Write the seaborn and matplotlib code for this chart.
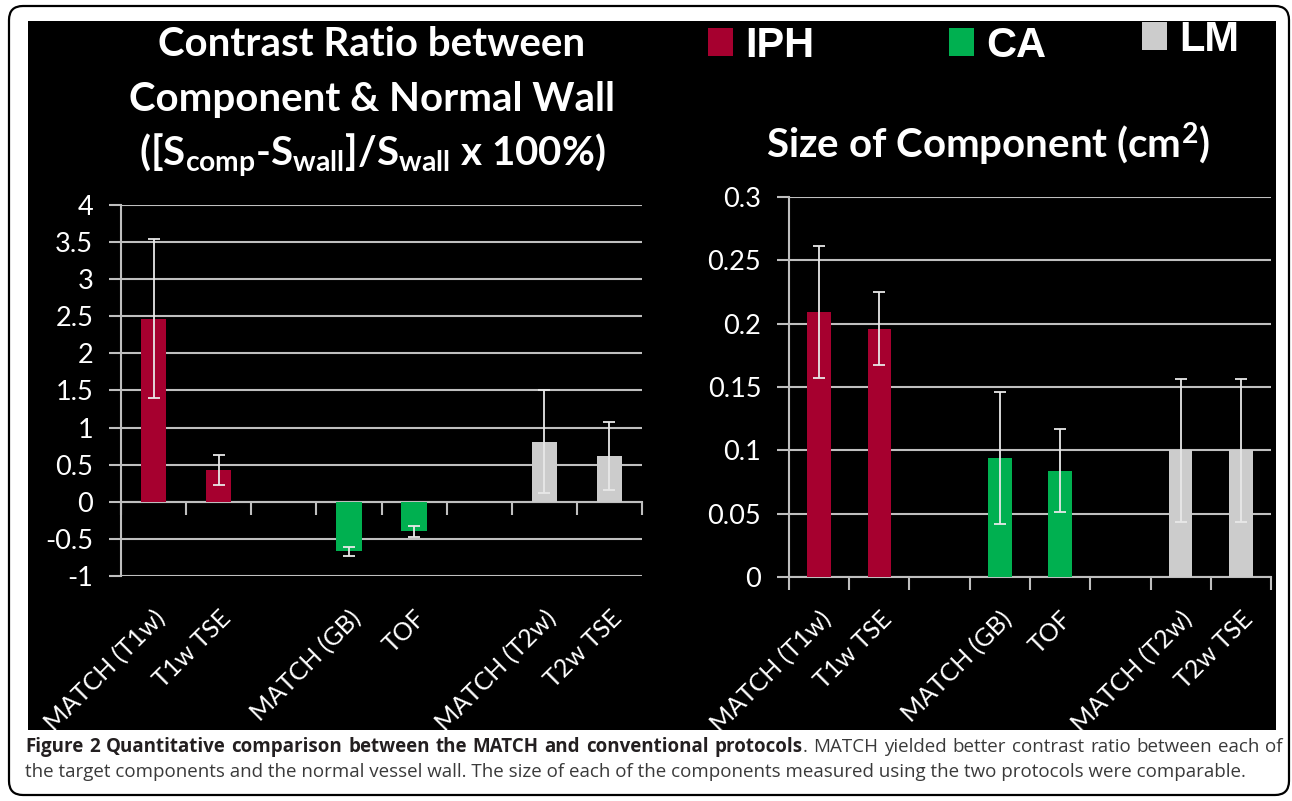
import numpy as np
import pandas as pd
import matplotlib
matplotlib.use("Agg")
import matplotlib.pyplot as plt
import matplotlib.transforms as mtransforms
from matplotlib.patches import Patch, Rectangle, FancyBboxPatch
import seaborn as sns

# ---------------- data ----------------
protocols = ["MATCH (T1w)", "T1w TSE", "MATCH (GB)", "TOF", "MATCH (T2w)", "T2w TSE"]
components = ["IPH", "IPH", "CA", "CA", "LM", "LM"]
contrast_ratio = [2.47, 0.43, -0.665, -0.40, 0.81, 0.62]
contrast_err = [1.07, 0.20, 0.06, 0.075, 0.69, 0.455]
component_size = [0.2095, 0.196, 0.094, 0.084, 0.100, 0.100]
size_err = [0.052, 0.029, 0.052, 0.033, 0.0565, 0.0565]
category_order = ["MATCH (T1w)", "T1w TSE", " ", "MATCH (GB)", "TOF", "  ", "MATCH (T2w)", "T2w TSE"]
legend_labels = ["IPH", "CA", "LM"]
bar_colors = ["#A6002F", "#00B050", "#CCCCCC"]
left_yticks = [-1, -0.5, 0, 0.5, 1, 1.5, 2, 2.5, 3, 3.5, 4]
right_yticks = [0, 0.05, 0.1, 0.15, 0.2, 0.25, 0.3]
left_title = ["Contrast Ratio between", "Component & Normal Wall",
              r"([S$_{comp}$-S$_{wall}$]/S$_{wall}$ x 100%)"]
right_title = r"Size of Component (cm$^{2}$)"
caption_bold = "Figure 2 Quantitative comparison between the MATCH and conventional protocols"
caption_rest = ". MATCH yielded better contrast ratio between each of"
caption_line2 = ("the target components and the normal vessel wall. The size of each of the "
                 "components measured using the two protocols were comparable.")

# ---------------- style ----------------
plt.rcParams["font.family"] = ["Lato", "DejaVu Sans"]
plt.rcParams["mathtext.fontset"] = "custom"
plt.rcParams["mathtext.rm"] = "Lato:bold"
plt.rcParams["mathtext.it"] = "Lato:bold"
plt.rcParams["mathtext.bf"] = "Lato:bold"
plt.rcParams["mathtext.default"] = "rm"

W, H = 1292, 801
fig = plt.figure(figsize=(W / 100, H / 100), dpi=100)
fig.patch.set_facecolor("white")
pix = mtransforms.IdentityTransform()

# outer rounded frame and black panel
fig.patches.append(FancyBboxPatch((9, H - 795), 1280, 789,
                                  boxstyle="round,pad=0,rounding_size=14",
                                  transform=pix, facecolor="white",
                                  edgecolor="black", linewidth=1.6, zorder=-2))
fig.patches.append(Rectangle((28, H - 730), 1248, 709, transform=pix,
                             facecolor="black", edgecolor="none", zorder=-1))

palette = dict(zip(legend_labels, bar_colors))
grid_col = "#bfbfbf"


def draw_panel(rect, values, errs, yticks, ylim, zero_loc):
    ax = fig.add_axes(rect)
    ax.set_facecolor("black")
    df = pd.DataFrame({"protocol": protocols, "component": components, "value": values})
    sns.barplot(data=df, x="protocol", y="value", hue="component", order=category_order,
                hue_order=legend_labels, palette=palette, dodge=False, width=0.39,
                saturation=1, errorbar=None, legend=False, ax=ax, zorder=2)
    xpos = [category_order.index(p) for p in protocols]
    ax.errorbar(xpos, values, yerr=errs, fmt="none", ecolor="#e8e8e8",
                elinewidth=1.3, capsize=4, capthick=1.3, zorder=3)
    ax.set_xlim(-0.5, len(category_order) - 0.5)
    ax.set_ylim(*ylim)
    ax.set_yticks(yticks)
    ax.set_yticklabels([f"{t:g}" for t in yticks])
    ax.yaxis.grid(True, color=grid_col, linewidth=1.5)
    ax.xaxis.grid(False)
    ax.set_axisbelow(True)
    for s in ["top", "right", "bottom"]:
        ax.spines[s].set_visible(False)
    ax.spines["left"].set_color(grid_col)
    ax.spines["left"].set_linewidth(1.5)
    ax.tick_params(axis="y", colors=grid_col, labelcolor="white", length=9,
                   width=1.5, pad=11, labelsize=19.5)
    ax.set_xticks(range(len(category_order)))
    ax.set_xticklabels(category_order, rotation=45, ha="right", rotation_mode="anchor")
    ax.tick_params(axis="x", length=0, pad=22, labelsize=18, labelcolor="white")
    ax.set_xlabel("")
    ax.set_ylabel("")
    sec = ax.secondary_xaxis(zero_loc)
    sec.set_xticks(np.arange(-0.5, len(category_order), 1.0))
    sec.set_xticklabels([])
    sec.tick_params(length=9, width=1.5, color=grid_col)
    for s in sec.spines.values():
        s.set_color(grid_col)
        s.set_linewidth(1.5)
    return ax


draw_panel([121 / W, 1 - 576 / H, 521 / W, 371 / H], contrast_ratio, contrast_err,
           left_yticks, (-1, 4), 0.2)
draw_panel([789 / W, 1 - 577 / H, 482 / W, 380 / H], component_size, size_err,
           right_yticks, (0, 0.3), 0.0)

# titles
for txt, yc in zip(left_title, [45, 100, 155]):
    fig.text(372 / W, 1 - yc / H, txt, ha="center", va="center", color="white",
             fontsize=29, fontweight="bold", family="Lato")
fig.text(988 / W, 1 - 144 / H, right_title, ha="center", va="center", color="white",
         fontsize=29, fontweight="bold", family="Lato")

# legend entries
for lab, col, (lx, ly) in zip(legend_labels, bar_colors, [(708, 46), (949, 46), (1142, 40)]):
    fig.legend(handles=[Patch(facecolor=col, edgecolor="none")], labels=[lab],
               loc="center left", bbox_to_anchor=(lx / W, 1 - ly / H), frameon=False,
               prop={"family": "Liberation Sans", "size": 30, "weight": "bold"},
               labelcolor="white", handlelength=0.6, handleheight=0.65,
               handletextpad=0.3, borderpad=0, borderaxespad=0)

# caption (first line justified between the frame margins)
renderer = fig.canvas.get_renderer()
cap_size = 13.5
x_left, x_right = 25, 1283
units = [[(w, "bold", "#231f20")] for w in caption_bold.split()]
units[-1].append((caption_rest[0], "normal", "#3a3a3a"))
units += [[(w, "normal", "#3a3a3a")] for w in caption_rest[1:].split()]
placed = []
widths = []
for unit in units:
    pieces = []
    uw = 0
    for txt, wt, col in unit:
        t = fig.text(0, 1 - 752 / H, txt, ha="left", va="baseline", family="Open Sans",
                     fontweight=wt, fontsize=cap_size, color=col)
        w = t.get_window_extent(renderer).width
        pieces.append((t, uw))
        uw += w
    placed.append(pieces)
    widths.append(uw)
gap = (x_right - x_left - sum(widths)) / (len(units) - 1)
x = x_left
for pieces, uw in zip(placed, widths):
    for t, off in pieces:
        t.set_x((x + off) / W)
    x += uw + gap
fig.text(x_left / W, 1 - 777 / H, caption_line2, ha="left", va="baseline",
         family="Open Sans", fontsize=cap_size, color="#3a3a3a")

fig.savefig("out.png", dpi=100, facecolor="white")
